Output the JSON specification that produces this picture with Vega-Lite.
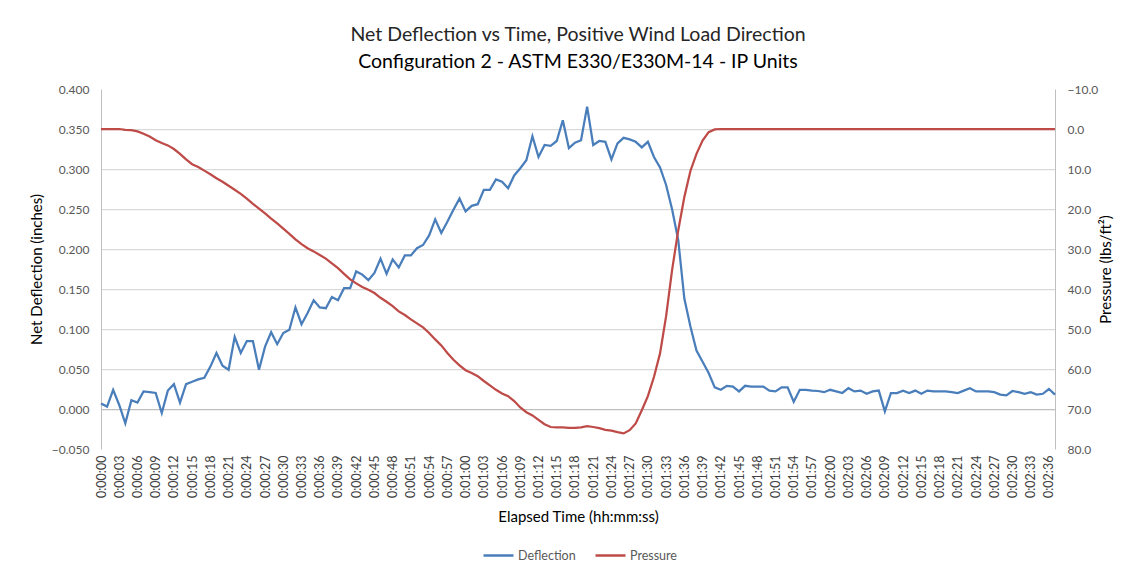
{
  "$schema": "https://vega.github.io/schema/vega-lite/v6.json",
  "width": 954,
  "height": 360,
  "autosize": {"type": "none"},
  "padding": {"left": 101, "top": 89, "right": 80, "bottom": 126},
  "background": "white",
  "title": {
    "text": "Net Deflection vs Time, Positive Wind Load Direction",
    "subtitle": "Configuration 2 - ASTM E330/E330M-14 - IP Units",
    "anchor": "middle",
    "font": "Lato",
    "fontSize": 19.5,
    "fontWeight": "normal",
    "color": "#262626",
    "subtitleFont": "Lato",
    "subtitleFontSize": 19.5,
    "subtitleFontWeight": "normal",
    "subtitleColor": "#000000",
    "subtitlePadding": 7,
    "offset": 11
  },
  "config": {
    "view": {"stroke": null},
    "axis": {
      "labelFont": "Lato",
      "labelFontSize": 12,
      "labelColor": "#595959",
      "titleFont": "Lato",
      "titleFontSize": 15,
      "titleFontWeight": "normal",
      "titleColor": "#000000",
      "ticks": false,
      "domainColor": "#bfbfbf"
    },
    "legend": {
      "labelFont": "Lato",
      "labelFontSize": 12.5,
      "labelColor": "#595959"
    }
  },
  "data": {
    "values": [
      {"t": 0, "deflection": 0.007, "pressure": 0},
      {"t": 1, "deflection": 0.003, "pressure": 0},
      {"t": 2, "deflection": 0.024, "pressure": 0},
      {"t": 3, "deflection": 0.005, "pressure": 0},
      {"t": 4, "deflection": -0.018, "pressure": 0.2},
      {"t": 5, "deflection": 0.011, "pressure": 0.3},
      {"t": 6, "deflection": 0.008, "pressure": 0.6},
      {"t": 7, "deflection": 0.022, "pressure": 1.2},
      {"t": 8, "deflection": 0.021, "pressure": 1.9},
      {"t": 9, "deflection": 0.020, "pressure": 2.8},
      {"t": 10, "deflection": -0.005, "pressure": 3.5},
      {"t": 11, "deflection": 0.023, "pressure": 4.1},
      {"t": 12, "deflection": 0.031, "pressure": 5.0},
      {"t": 13, "deflection": 0.008, "pressure": 6.2},
      {"t": 14, "deflection": 0.031, "pressure": 7.6},
      {"t": 15, "deflection": 0.034, "pressure": 8.8},
      {"t": 16, "deflection": 0.037, "pressure": 9.5},
      {"t": 17, "deflection": 0.039, "pressure": 10.4},
      {"t": 18, "deflection": 0.053, "pressure": 11.3},
      {"t": 19, "deflection": 0.070, "pressure": 12.3},
      {"t": 20, "deflection": 0.054, "pressure": 13.2},
      {"t": 21, "deflection": 0.049, "pressure": 14.2},
      {"t": 22, "deflection": 0.090, "pressure": 15.2},
      {"t": 23, "deflection": 0.070, "pressure": 16.2},
      {"t": 24, "deflection": 0.085, "pressure": 17.4},
      {"t": 25, "deflection": 0.085, "pressure": 18.7},
      {"t": 26, "deflection": 0.049, "pressure": 19.9},
      {"t": 27, "deflection": 0.078, "pressure": 21.1},
      {"t": 28, "deflection": 0.096, "pressure": 22.4},
      {"t": 29, "deflection": 0.081, "pressure": 23.6},
      {"t": 30, "deflection": 0.095, "pressure": 24.9},
      {"t": 31, "deflection": 0.099, "pressure": 26.2},
      {"t": 32, "deflection": 0.127, "pressure": 27.6},
      {"t": 33, "deflection": 0.106, "pressure": 28.8},
      {"t": 34, "deflection": 0.120, "pressure": 29.8},
      {"t": 35, "deflection": 0.136, "pressure": 30.6},
      {"t": 36, "deflection": 0.127, "pressure": 31.5},
      {"t": 37, "deflection": 0.126, "pressure": 32.4},
      {"t": 38, "deflection": 0.140, "pressure": 33.6},
      {"t": 39, "deflection": 0.136, "pressure": 34.8},
      {"t": 40, "deflection": 0.151, "pressure": 36.2},
      {"t": 41, "deflection": 0.151, "pressure": 37.6},
      {"t": 42, "deflection": 0.172, "pressure": 38.6},
      {"t": 43, "deflection": 0.168, "pressure": 39.5},
      {"t": 44, "deflection": 0.161, "pressure": 40.2},
      {"t": 45, "deflection": 0.170, "pressure": 41.0},
      {"t": 46, "deflection": 0.188, "pressure": 42.2},
      {"t": 47, "deflection": 0.169, "pressure": 43.2},
      {"t": 48, "deflection": 0.187, "pressure": 44.3},
      {"t": 49, "deflection": 0.177, "pressure": 45.6},
      {"t": 50, "deflection": 0.192, "pressure": 46.5},
      {"t": 51, "deflection": 0.192, "pressure": 47.6},
      {"t": 52, "deflection": 0.201, "pressure": 48.6},
      {"t": 53, "deflection": 0.205, "pressure": 49.6},
      {"t": 54, "deflection": 0.217, "pressure": 51.0},
      {"t": 55, "deflection": 0.237, "pressure": 52.6},
      {"t": 56, "deflection": 0.220, "pressure": 54.1},
      {"t": 57, "deflection": 0.234, "pressure": 56.0},
      {"t": 58, "deflection": 0.249, "pressure": 57.7},
      {"t": 59, "deflection": 0.263, "pressure": 59.1},
      {"t": 60, "deflection": 0.247, "pressure": 60.3},
      {"t": 61, "deflection": 0.254, "pressure": 61.0},
      {"t": 62, "deflection": 0.256, "pressure": 61.8},
      {"t": 63, "deflection": 0.274, "pressure": 63.0},
      {"t": 64, "deflection": 0.274, "pressure": 64.1},
      {"t": 65, "deflection": 0.287, "pressure": 65.2},
      {"t": 66, "deflection": 0.284, "pressure": 66.1},
      {"t": 67, "deflection": 0.276, "pressure": 66.8},
      {"t": 68, "deflection": 0.292, "pressure": 68.0},
      {"t": 69, "deflection": 0.301, "pressure": 69.6},
      {"t": 70, "deflection": 0.311, "pressure": 70.8},
      {"t": 71, "deflection": 0.341, "pressure": 71.6},
      {"t": 72, "deflection": 0.315, "pressure": 72.7},
      {"t": 73, "deflection": 0.330, "pressure": 73.8},
      {"t": 74, "deflection": 0.329, "pressure": 74.5},
      {"t": 75, "deflection": 0.335, "pressure": 74.6},
      {"t": 76, "deflection": 0.361, "pressure": 74.6},
      {"t": 77, "deflection": 0.326, "pressure": 74.7},
      {"t": 78, "deflection": 0.333, "pressure": 74.7},
      {"t": 79, "deflection": 0.336, "pressure": 74.6},
      {"t": 80, "deflection": 0.378, "pressure": 74.3},
      {"t": 81, "deflection": 0.330, "pressure": 74.5},
      {"t": 82, "deflection": 0.335, "pressure": 74.8},
      {"t": 83, "deflection": 0.334, "pressure": 75.2},
      {"t": 84, "deflection": 0.312, "pressure": 75.4},
      {"t": 85, "deflection": 0.332, "pressure": 75.8},
      {"t": 86, "deflection": 0.339, "pressure": 76.1},
      {"t": 87, "deflection": 0.337, "pressure": 75.3},
      {"t": 88, "deflection": 0.334, "pressure": 73.6},
      {"t": 89, "deflection": 0.327, "pressure": 70.3},
      {"t": 90, "deflection": 0.334, "pressure": 66.8},
      {"t": 91, "deflection": 0.315, "pressure": 62.0},
      {"t": 92, "deflection": 0.302, "pressure": 56.1},
      {"t": 93, "deflection": 0.280, "pressure": 46.8},
      {"t": 94, "deflection": 0.249, "pressure": 35.1},
      {"t": 95, "deflection": 0.211, "pressure": 25.3},
      {"t": 96, "deflection": 0.138, "pressure": 17.0},
      {"t": 97, "deflection": 0.103, "pressure": 10.5},
      {"t": 98, "deflection": 0.073, "pressure": 6.2},
      {"t": 99, "deflection": 0.059, "pressure": 2.9},
      {"t": 100, "deflection": 0.045, "pressure": 0.8},
      {"t": 101, "deflection": 0.027, "pressure": 0.1},
      {"t": 102, "deflection": 0.024, "pressure": 0},
      {"t": 103, "deflection": 0.029, "pressure": 0},
      {"t": 104, "deflection": 0.028, "pressure": 0},
      {"t": 105, "deflection": 0.022, "pressure": 0},
      {"t": 106, "deflection": 0.029, "pressure": 0},
      {"t": 107, "deflection": 0.028, "pressure": 0},
      {"t": 108, "deflection": 0.028, "pressure": 0},
      {"t": 109, "deflection": 0.028, "pressure": 0},
      {"t": 110, "deflection": 0.023, "pressure": 0},
      {"t": 111, "deflection": 0.022, "pressure": 0},
      {"t": 112, "deflection": 0.027, "pressure": 0},
      {"t": 113, "deflection": 0.027, "pressure": 0},
      {"t": 114, "deflection": 0.009, "pressure": 0},
      {"t": 115, "deflection": 0.024, "pressure": 0},
      {"t": 116, "deflection": 0.024, "pressure": 0},
      {"t": 117, "deflection": 0.023, "pressure": 0},
      {"t": 118, "deflection": 0.0225, "pressure": 0},
      {"t": 119, "deflection": 0.021, "pressure": 0},
      {"t": 120, "deflection": 0.024, "pressure": 0},
      {"t": 121, "deflection": 0.022, "pressure": 0},
      {"t": 122, "deflection": 0.020, "pressure": 0},
      {"t": 123, "deflection": 0.026, "pressure": 0},
      {"t": 124, "deflection": 0.022, "pressure": 0},
      {"t": 125, "deflection": 0.023, "pressure": 0},
      {"t": 126, "deflection": 0.019, "pressure": 0},
      {"t": 127, "deflection": 0.022, "pressure": 0},
      {"t": 128, "deflection": 0.023, "pressure": 0},
      {"t": 129, "deflection": -0.003, "pressure": 0},
      {"t": 130, "deflection": 0.020, "pressure": 0},
      {"t": 131, "deflection": 0.020, "pressure": 0},
      {"t": 132, "deflection": 0.023, "pressure": 0},
      {"t": 133, "deflection": 0.020, "pressure": 0},
      {"t": 134, "deflection": 0.023, "pressure": 0},
      {"t": 135, "deflection": 0.019, "pressure": 0},
      {"t": 136, "deflection": 0.023, "pressure": 0},
      {"t": 137, "deflection": 0.022, "pressure": 0},
      {"t": 138, "deflection": 0.022, "pressure": 0},
      {"t": 139, "deflection": 0.022, "pressure": 0},
      {"t": 140, "deflection": 0.021, "pressure": 0},
      {"t": 141, "deflection": 0.020, "pressure": 0},
      {"t": 142, "deflection": 0.023, "pressure": 0},
      {"t": 143, "deflection": 0.026, "pressure": 0},
      {"t": 144, "deflection": 0.022, "pressure": 0},
      {"t": 145, "deflection": 0.022, "pressure": 0},
      {"t": 146, "deflection": 0.022, "pressure": 0},
      {"t": 147, "deflection": 0.021, "pressure": 0},
      {"t": 148, "deflection": 0.018, "pressure": 0},
      {"t": 149, "deflection": 0.017, "pressure": 0},
      {"t": 150, "deflection": 0.0225, "pressure": 0},
      {"t": 151, "deflection": 0.021, "pressure": 0},
      {"t": 152, "deflection": 0.019, "pressure": 0},
      {"t": 153, "deflection": 0.021, "pressure": 0},
      {"t": 154, "deflection": 0.018, "pressure": 0},
      {"t": 155, "deflection": 0.019, "pressure": 0},
      {"t": 156, "deflection": 0.025, "pressure": 0},
      {"t": 157, "deflection": 0.018, "pressure": 0}
    ]
  },
  "encoding": {
    "x": {
      "field": "t",
      "type": "quantitative",
      "scale": {"domain": [0, 157], "nice": false, "zero": false},
      "axis": {
        "title": "Elapsed Time (hh:mm:ss)",
        "values": [0,3,6,9,12,15,18,21,24,27,30,33,36,39,42,45,48,51,54,57,60,63,66,69,72,75,78,81,84,87,90,93,96,99,102,105,108,111,114,117,120,123,126,129,132,135,138,141,144,147,150,153,156],
        "labelExpr": "'0:0' + floor(datum.value / 60) + ':' + (datum.value % 60 < 10 ? '0' : '') + (datum.value % 60)",
        "labelAngle": -90,
        "labelFontSize": 12.5,
        "labelColor": "#404040",
        "labelPadding": 6,
        "labelOverlap": false,
        "labelFlush": false,
        "domain": false,
        "grid": false,
        "titlePadding": 12
      }
    }
  },
  "layer": [
    {
      "mark": {"type": "line", "strokeWidth": 2.25, "interpolate": "linear"},
      "encoding": {
        "y": {
          "field": "deflection",
          "type": "quantitative",
          "scale": {"domain": [-0.05, 0.4], "nice": false, "zero": false},
          "axis": {
            "orient": "left",
            "title": "Net Deflection (inches)",
            "values": [-0.05, 0, 0.05, 0.1, 0.15, 0.2, 0.25, 0.3, 0.35, 0.4],
            "format": ".3f",
            "labelPadding": 12,
            "titlePadding": 7,
            "grid": true,
            "gridColor": {"condition": {"test": "abs(datum.value) < 0.001", "value": "#bfbfbf"}, "value": "#d9d9d9"},
            "gridOpacity": {"condition": {"test": "datum.value > 0.39 || datum.value < -0.04", "value": 0}, "value": 1},
            "gridWidth": 1.25
          }
        },
        "color": {
          "datum": "Deflection",
          "type": "nominal",
          "scale": {"domain": ["Deflection", "Pressure"], "range": ["#4a7ebb", "#be4b48"]},
          "legend": {
            "orient": "none",
            "legendX": 381,
            "legendY": 450,
            "direction": "horizontal",
            "title": null,
            "symbolType": "stroke",
            "symbolStrokeWidth": 2.5,
            "symbolSize": 900,
            "columnPadding": 14,
            "labelOffset": 3
          }
        }
      }
    },
    {
      "mark": {"type": "line", "strokeWidth": 2.25, "interpolate": "linear"},
      "encoding": {
        "y": {
          "field": "pressure",
          "type": "quantitative",
          "scale": {"domain": [-10, 80], "nice": false, "zero": false, "reverse": true},
          "axis": {
            "orient": "right",
            "title": "Pressure (lbs/ft²)",
            "titleAngle": -90,
            "values": [-10, 0, 10, 20, 30, 40, 50, 60, 70, 80],
            "format": ".1f",
            "labelPadding": 12,
            "titlePadding": 16,
            "grid": false
          }
        },
        "color": {"datum": "Pressure", "type": "nominal"}
      }
    }
  ],
  "resolve": {"scale": {"y": "independent"}}
}
